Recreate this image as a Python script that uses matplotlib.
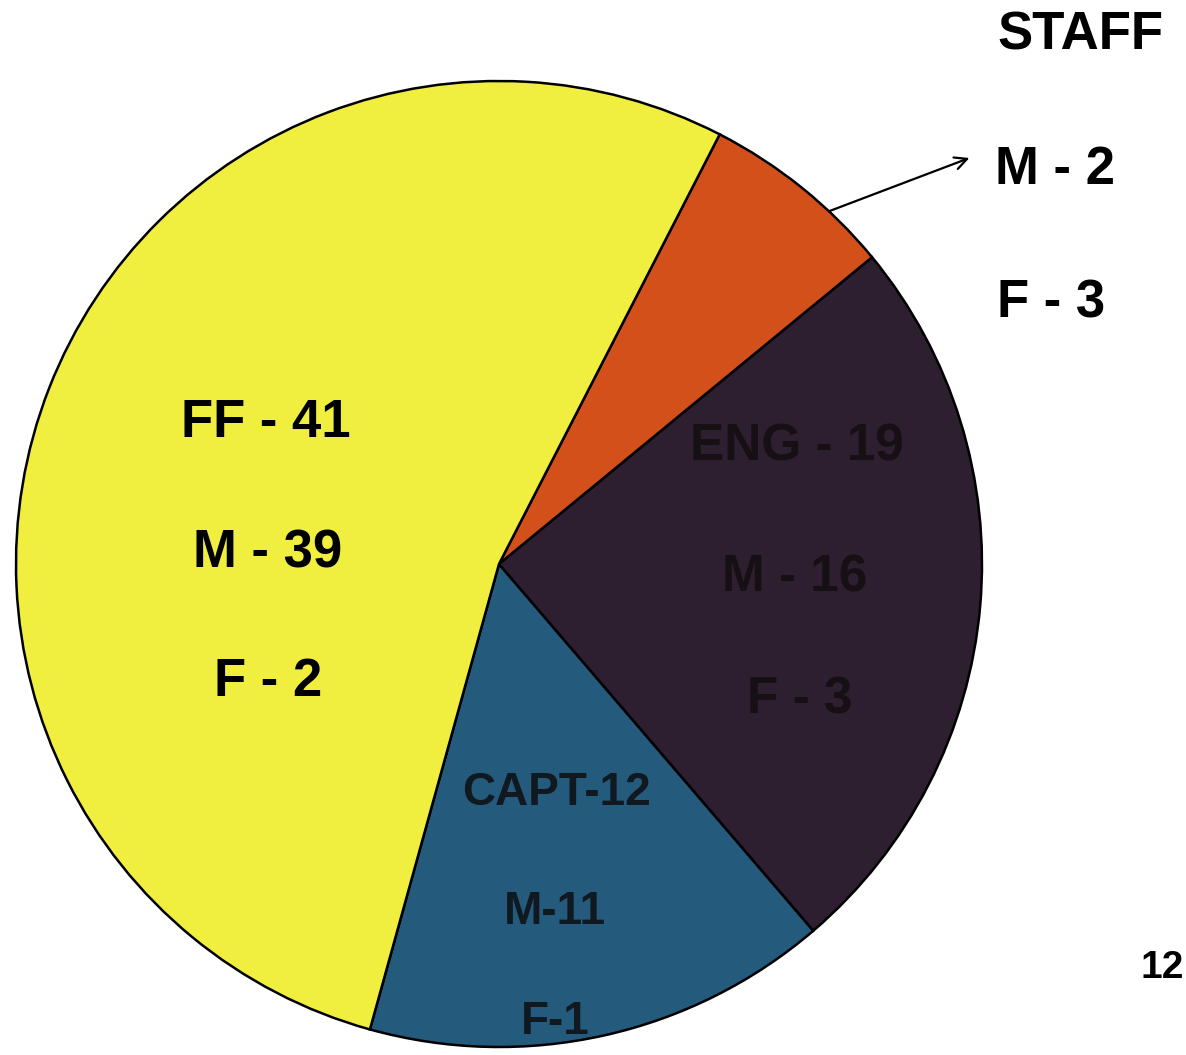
import matplotlib
matplotlib.use("Agg")
import matplotlib.pyplot as plt

# ── data ────────────────────────────────────────────────────────────────────
categories = ["CAPT", "ENG", "STAFF", "FF"]
totals = [12, 19, 5, 41]
male = [11, 16, 2, 39]
female = [1, 3, 3, 2]
colors = ["#245a7c", "#2d1f2f", "#d4501b", "#f0ee3e"]

W, H = 1186, 1055
plt.rcParams["font.family"] = ["Liberation Sans", "DejaVu Sans"]

fig = plt.figure(figsize=(W / 100, H / 100), dpi=100)
ax = fig.add_axes([0, 0, 1, 1])


def py(y_top):
    # pixel row (from top) -> data y
    return H - y_top


ax.pie(totals, colors=colors, startangle=-105.5, counterclock=True,
       center=(499, py(564)), radius=483, frame=True,
       wedgeprops=dict(edgecolor="black", linewidth=1.8))
ax.set_xlim(0, W)
ax.set_ylim(0, H)
ax.set_aspect("equal")
ax.axis("off")

bold = dict(fontweight="bold", ha="center", va="center")

# FF slice
ff = categories.index("FF")
ax.text(266, py(423), f"FF - {totals[ff]}", fontsize=38, color="black", **bold)
ax.text(268, py(553), f"M - {male[ff]}", fontsize=38, color="black", **bold)
ax.text(268, py(682), f"F - {female[ff]}", fontsize=38, color="black", **bold)

# ENG slice (dark text on dark wedge)
eng = categories.index("ENG")
ax.text(797, py(447), f"ENG - {totals[eng]}", fontsize=37, color="#160f14", **bold)
ax.text(795, py(578), f"M - {male[eng]}", fontsize=37, color="#160f14", **bold)
ax.text(800, py(700), f"F - {female[eng]}", fontsize=37, color="#160f14", **bold)

# CAPT slice
cap = categories.index("CAPT")
ax.text(557, py(793), f"CAPT-{totals[cap]}", fontsize=33, color="#101820", **bold)
ax.text(555, py(912), f"M-{male[cap]}", fontsize=33, color="#101820", **bold)
ax.text(555, py(1022), f"F-{female[cap]}", fontsize=33, color="#101820", **bold)

# STAFF callout
st = categories.index("STAFF")
ax.text(997, py(36), "STAFF", fontsize=38, fontweight="bold", ha="left", va="center")
ax.text(995, py(170), f"M - {male[st]}", fontsize=38, fontweight="bold",
        ha="left", va="center")
ax.text(997, py(303), f"F - {female[st]}", fontsize=38, fontweight="bold",
        ha="left", va="center")
ax.annotate("", xy=(972, py(157)), xytext=(827, py(212)),
            arrowprops=dict(arrowstyle="->", color="black", lw=1.6,
                            mutation_scale=22))

# page number
ax.text(1184, py(968), "12", fontsize=28, fontweight="bold", ha="right", va="center")

fig.savefig("out.png", dpi=100)
plt.close(fig)
